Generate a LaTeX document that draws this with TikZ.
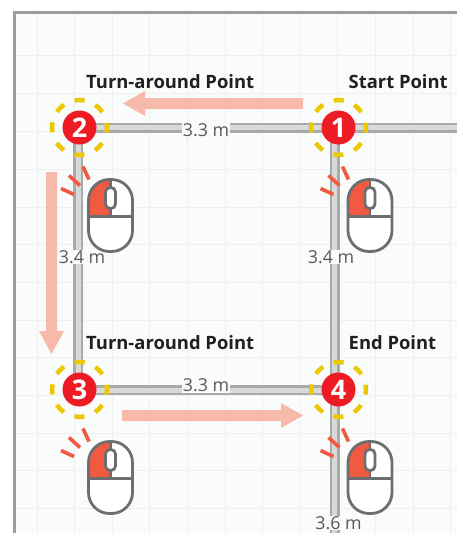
\documentclass[tikz,border=0pt]{standalone}
\usepackage{fontspec}
\setmainfont{Open Sans}
\definecolor{pagebg}{HTML}{FAFBFB}
\definecolor{gridc}{HTML}{EEF0F0}
\definecolor{framec}{HTML}{9A9C9E}
\definecolor{trackd}{HTML}{A9ABAB}
\definecolor{trackl}{HTML}{D8D9D9}
\definecolor{pink}{HTML}{F7B9A9}
\definecolor{badge}{HTML}{ED1C24}
\definecolor{halo}{HTML}{EBC800}
\definecolor{clickc}{HTML}{F15A40}
\definecolor{mousec}{HTML}{6D6E71}
\definecolor{measc}{HTML}{58595B}
\definecolor{titlec}{HTML}{231F20}
\tikzset{
  badgenode/.style={circle,fill=badge,text=white,minimum size=34pt,inner sep=0pt,font=\fontsize{27}{27}\selectfont\bfseries},
  titlenode/.style={anchor=base west,inner sep=0pt,text=titlec,font=\fontsize{18.4}{18.4}\selectfont\bfseries},
  measnode/.style={fill=pagebg,inner xsep=1pt,inner ysep=0.5pt,text=measc,font=\fontsize{17.8}{17.8}\selectfont},
  haloring/.style={draw=halo,line width=4.5pt,dash pattern=on 10pt off 11.6pt,dash phase=5pt},
  trackbase/.style={draw=trackd,line width=10pt},
  trackcore/.style={draw=trackl,line width=5pt},
  pinkarrow/.style={fill=pink,draw=none},
  mouseline/.style={draw=mousec,line width=2.8pt},
  rayline/.style={draw=clickc,line width=3.6pt},
}
\newcommand{\mouseicon}[2]{%
 \begin{scope}[shift={(#1,#2)}]
  % origin: top centre of mouse
  \fill[white,rounded corners=21pt] (-22,0) rectangle (22,72);
  \begin{scope}
   \clip[rounded corners=21pt] (-22,0) rectangle (22,72);
   \fill[clickc] (-22,0) rectangle (0,37);
  \end{scope}
  \draw[mouseline,rounded corners=21pt] (-22,0) rectangle (22,72);
  \draw[mouseline] (-22,37) -- (22,37);
  \draw[mouseline] (0,0) -- (0,37);
  \draw[mouseline,fill=white,rounded corners=4.5pt] (-5,8) rectangle (5,29);
  \draw[rayline] (-27.5,-13) -- (-21.5,0);
  \draw[rayline] (-41.5,-4) -- (-30.5,6);
  \draw[rayline] (-49.5,9) -- (-36.5,15);
 \end{scope}}
\begin{document}
\begin{tikzpicture}[x=1pt,y=-1pt]
\useasboundingbox (0,0) rectangle (457,533);
\fill[white] (0,0) rectangle (457,533);
\fill[pagebg] (14,13) rectangle (457,533);
\foreach \x in {37,74.6,112.2,149.8,187.4,225,262.6,300.2,337.8,375.4,413,450.6}
  \draw[gridc,line width=0.8pt] (\x,14) -- (\x,533);
\foreach \y in {55,93,131,169,207,244.5,282,320,357.5,395,433,470.5,508}
  \draw[gridc,line width=0.8pt] (14,\y) -- (457,\y);
\draw[framec,line width=3pt] (14.2,533) -- (14.2,12.5) -- (457,12.5);

% track corners
\coordinate (t1) at (334.5,127.5);
\coordinate (t2) at (78,127.5);
\coordinate (t3) at (78,390);
\coordinate (t4) at (334.5,390);
\coordinate (te) at (457,127.5);
\coordinate (ts) at (334.5,533);
\foreach \st in {trackbase,trackcore}{
  \draw[\st] (t2) -- (te);
  \draw[\st] (t2) -- (t3);
  \draw[\st] (t3) -- (t4);
  \draw[\st] (t1) -- (ts);
}

% labels on tracks
\node[measnode] (m1) at (206,130) {3.3 m};
\node[measnode] (m2) at (82,257) {3.4 m};
\node[measnode] (m3) at (331,257) {3.4 m};
\node[measnode] (m4) at (206,385.5) {3.3 m};
\node[measnode] (m5) at (338.5,523) {3.6 m};

% travel arrows
\fill[pinkarrow] (303,98) -- (145,98) -- (145,91) -- (123,103.5) -- (145,116) -- (145,109) -- (303,109) -- cycle;
\fill[pinkarrow] (46,172) -- (46,331) -- (39,331) -- (51.5,354) -- (64,331) -- (57,331) -- (57,172) -- cycle;
\fill[pinkarrow] (122,410) -- (281,410) -- (281,403) -- (303,415.5) -- (281,428) -- (281,421) -- (122,421) -- cycle;

% halos
\foreach \c in {(338.5,127.5),(79.5,127.5),(79.5,389.5),(338.5,389.5)}
  \draw[haloring] \c circle[radius=27.5];

% badges
\node[badgenode] (n1) at (338.5,127.5) {1};
\node[badgenode] (n2) at (79.5,127.5) {2};
\node[badgenode] (n3) at (79.5,389.5) {3};
\node[badgenode] (n4) at (338.5,389.5) {4};

% titles
\node[titlenode] (l2) at (86,88) {Turn-around Point};
\node[titlenode] (l1) at (348.5,88) {Start Point};
\node[titlenode] (l3) at (86,349.5) {Turn-around Point};
\node[titlenode] (l4) at (348.5,349.5) {End Point};

% mice
\mouseicon{110.5}{179.5}
\mouseicon{370}{179.5}
\mouseicon{110.5}{441.5}
\mouseicon{370}{441.5}
\end{tikzpicture}
\end{document}
